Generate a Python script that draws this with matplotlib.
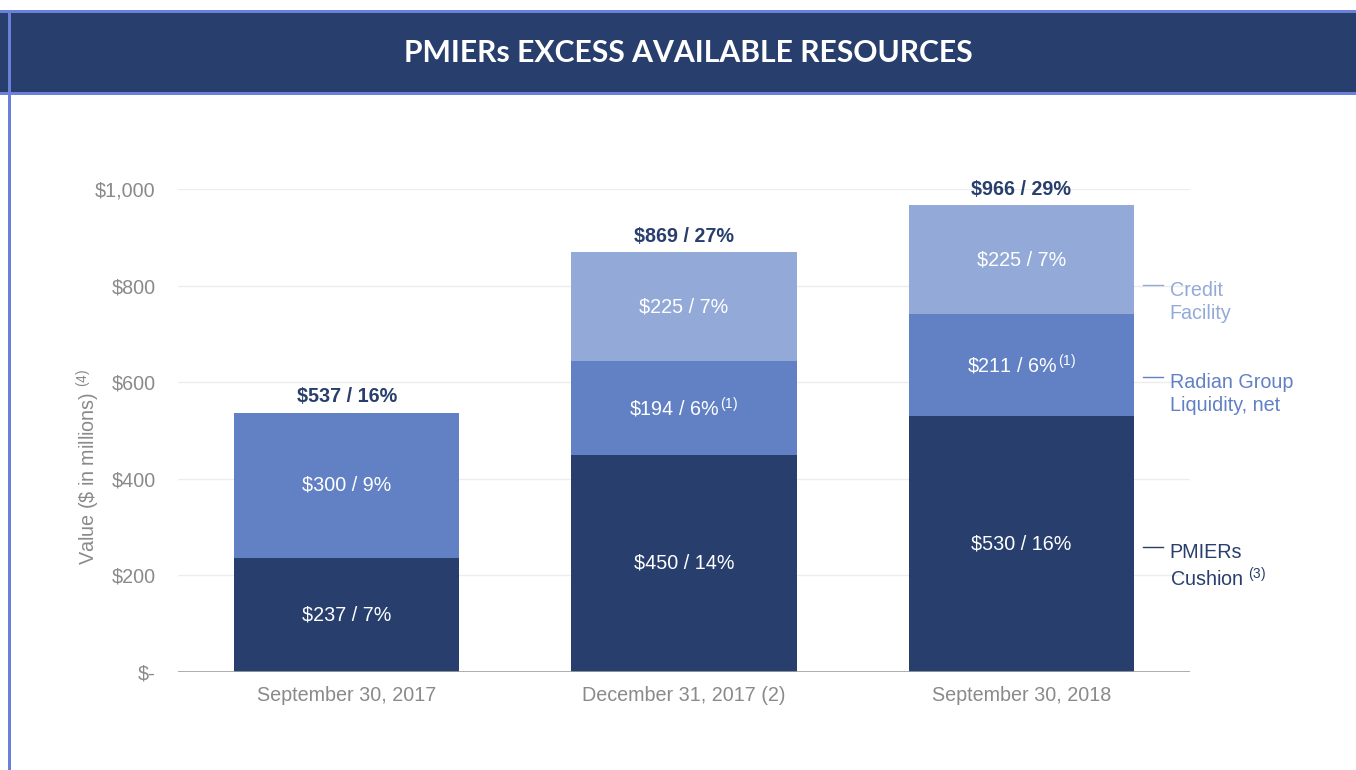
import matplotlib
matplotlib.use("Agg")
import matplotlib.pyplot as plt
from matplotlib.patches import Rectangle

plt.rcParams["font.family"] = ["Liberation Sans", "DejaVu Sans"]
plt.rcParams["mathtext.default"] = "regular"

dates = ["September 30, 2017", "December 31, 2017 (2)", "September 30, 2018"]
cushion = [237, 450, 530]
liquidity = [300, 194, 211]
credit = [0, 225, 225]
cushion_pct = [7, 14, 16]
liquidity_pct = [9, 6, 6]
credit_pct = [0, 7, 7]
totals = [537, 869, 966]
total_pct = [16, 27, 29]
liquidity_note = ["", "(1)", "(1)"]
yticks = [0, 200, 400, 600, 800, 1000]
ytick_labels = ["$-", "$200", "$400", "$600", "$800", "$1,000"]

NAVY = "#283f6e"
MID = "#6181c4"
LIGHT = "#93aad8"
BORDER = "#6b80d9"
GREY = "#8a8a8a"

fig = plt.figure(figsize=(13.56, 7.70), dpi=100)

# header band and frame
fig.patches.append(Rectangle((0, 1 - 95 / 770), 1, 85 / 770, transform=fig.transFigure,
                             facecolor=BORDER, edgecolor="none", zorder=0))
fig.patches.append(Rectangle((0, 1 - 92 / 770), 1, 79 / 770, transform=fig.transFigure,
                             facecolor="#283f6e", edgecolor="none", zorder=1))
fig.patches.append(Rectangle((8 / 1356, 0), 3 / 1356, 1 - 10 / 770, transform=fig.transFigure,
                             facecolor=BORDER, edgecolor="none", zorder=2))
fig.text(688 / 1356, 1 - 53 / 770, "PMIERs EXCESS AVAILABLE RESOURCES", color="white",
         fontsize=21.7, fontweight="bold", family=["Lato", "DejaVu Sans"], ha="center", va="center")

ax = fig.add_axes([178 / 1356, 1 - 672 / 770, 1012 / 1356, 483 / 770])
x = list(range(len(dates)))
width = 0.667

ax.bar(x, cushion, width, color=NAVY, zorder=3)
ax.bar(x, liquidity, width, bottom=cushion, color=MID, zorder=3)
base2 = [c + l for c, l in zip(cushion, liquidity)]
ax.bar(x, credit, width, bottom=base2, color=LIGHT, zorder=3)

fs = 14.2
for i in x:
    ax.text(i, cushion[i] / 2, f"\\${cushion[i]} / {cushion_pct[i]}%", color="white",
            fontsize=fs, ha="center", va="center", zorder=4)
    note = f"$^{{\\,{liquidity_note[i]}}}$" if liquidity_note[i] else ""
    ax.text(i, cushion[i] + liquidity[i] / 2, f"\\${liquidity[i]} / {liquidity_pct[i]}%" + note,
            color="white", fontsize=fs, ha="center", va="center", zorder=4)
    if credit[i]:
        ax.text(i, base2[i] + credit[i] / 2, f"\\${credit[i]} / {credit_pct[i]}%", color="white",
                fontsize=fs, ha="center", va="center", zorder=4)
    ax.annotate(f"\\${totals[i]} / {total_pct[i]}%", (i, totals[i]), xytext=(0, 11.5),
                textcoords="offset points", ha="center", va="center", color=NAVY,
                fontsize=fs, fontweight="bold", annotation_clip=False)

ax.set_xlim(-0.5, 2.5)
ax.set_ylim(0, 1000)
ax.set_yticks(yticks)
ax.set_yticklabels([t.replace("$", "\\$") for t in ytick_labels])
ax.set_xticks(x)
ax.set_xticklabels(dates)
ax.tick_params(axis="both", length=0, labelsize=fs, labelcolor=GREY)
ax.tick_params(axis="y", pad=16)
ax.tick_params(axis="x", pad=10)
for s in ax.spines.values():
    s.set_visible(False)
ax.grid(axis="y", color="#ededed", linewidth=1, zorder=0)
ax.axhline(0, color="#a0a0a0", linewidth=1.2, zorder=5)
ax.set_ylabel("Value (\\$ in millions) $^{(4)}$", color=GREY, fontsize=fs)
ax.yaxis.set_label_coords(-0.075, 0.424)

# side legend
legend_items = [("Credit\nFacility", LIGHT, 801), ("Radian Group\nLiquidity, net", MID, 611),
                ("PMIERs\nCushion $^{(3)}$", NAVY, 259)]
for label, col, yv in legend_items:
    ax.plot([2.36, 2.42], [yv, yv], color=col, linewidth=1, clip_on=False, zorder=4)
    ax.text(2.44, yv + 8, label, color=col, fontsize=fs, ha="left", va="top",
            linespacing=1.25, clip_on=False)

fig.savefig("out.png", dpi=100)
